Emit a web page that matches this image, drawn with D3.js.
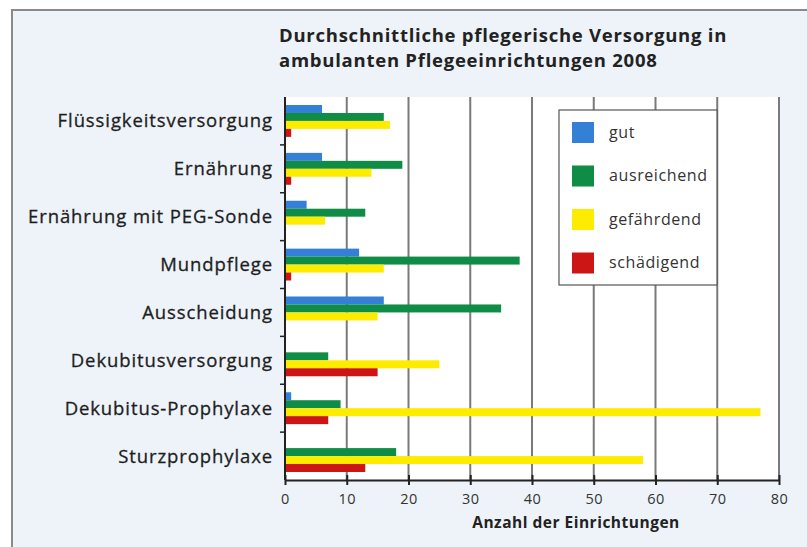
<!DOCTYPE html>
<html><head><meta charset="utf-8">
<script src="https://cdn.jsdelivr.net/npm/d3@7"></script>
<style>
body{margin:0;background:#fff;}
text{font-family:"Open Sans",sans-serif;}
</style></head>
<body>
<svg id="c" width="807" height="547"></svg>
<script>
const categories = ["Flüssigkeitsversorgung","Ernährung","Ernährung mit PEG-Sonde","Mundpflege","Ausscheidung","Dekubitusversorgung","Dekubitus-Prophylaxe","Sturzprophylaxe"];
const seriesNames = ["gut","ausreichend","gefährdend","schädigend"];
const gut = [6,6,3.5,12,16,0,1,0];
const ausreichend = [16,19,13,38,35,7,9,18];
const gefaehrdend = [17,14,6.5,16,15,25,77,58];
const schaedigend = [1,1,0,1,0,15,7,13];
const xTicks = [0,10,20,30,40,50,60,70,80];
const colors = ["#3380d6","#0f8c45","#fdec00","#cc1515"];
const title = ["Durchschnittliche pflegerische Versorgung in","ambulanten Pflegeeinrichtungen 2008"];
const xTitle = "Anzahl der Einrichtungen";

const values = [gut, ausreichend, gefaehrdend, schaedigend];
const svg = d3.select("#c");
// frame
svg.append("rect").attr("x",12).attr("y",10).attr("width",800).attr("height",545)
  .attr("fill","#edf3f9").attr("stroke","#8a8a8a").attr("stroke-width",2);

const L=285, R=779, T=97, B=480;
const x = d3.scaleLinear().domain([0,80]).range([L,R]);
const y = d3.scaleBand().domain(categories).range([T,B]);
const yi = d3.scaleBand().domain(seriesNames).range([8, y.bandwidth()-8]);

svg.append("rect").attr("x",L).attr("y",T).attr("width",R-L).attr("height",B-T).attr("fill","#fff");
// grid
svg.append("g").selectAll("line").data(xTicks.slice(1)).join("line")
  .attr("x1",d=>x(d)).attr("x2",d=>x(d)).attr("y1",T).attr("y2",B)
  .attr("stroke","#7a7a7a").attr("stroke-width",2);

// bars
const g = svg.append("g");
categories.forEach((c,ci)=>{
  seriesNames.forEach((s,si)=>{
    const v = values[si][ci];
    if(v<=0) return;
    g.append("rect").attr("x",x(0)).attr("y",y(c)+yi(s))
      .attr("width",x(v)-x(0)).attr("height",yi.bandwidth())
      .attr("fill",colors[si]);
  });
});

// x axis
const xa = svg.append("g").attr("transform",`translate(0,${B})`)
  .call(d3.axisBottom(x).tickValues(xTicks).tickSize(5).tickSizeOuter(0));
xa.select(".domain").attr("stroke","#222").attr("stroke-width",2);
xa.selectAll(".tick line").attr("y1",-5).attr("y2",5).attr("stroke","#222").attr("stroke-width",2);
xa.selectAll(".tick text").attr("y",14).attr("font-size",14.5).attr("fill","#333")
  .attr("font-family","Open Sans, sans-serif").attr("letter-spacing",0.5);

// y axis
svg.append("line").attr("x1",L).attr("x2",L).attr("y1",T).attr("y2",B).attr("stroke","#222").attr("stroke-width",2);
svg.append("g").selectAll("line").data(categories.slice(1)).join("line")
  .attr("x1",L-5).attr("x2",L).attr("y1",d=>y(d)).attr("y2",d=>y(d)).attr("stroke","#222").attr("stroke-width",1.5);
svg.append("g").selectAll("text").data(categories).join("text")
  .attr("x",273).attr("y",d=>y(d)+y.bandwidth()/2).attr("dy","0.35em")
  .attr("text-anchor","end").attr("font-size",18.5)
  .attr("letter-spacing",0.9).attr("fill","#1e1e1e").attr("stroke","#1e1e1e").attr("stroke-width",0.3).text(d=>d);

// titles
svg.append("g").selectAll("text").data(title).join("text")
  .attr("x",279).attr("y",(d,i)=>42+i*25).attr("font-size",18.5).attr("font-weight","bold")
  .attr("letter-spacing",0.75).attr("fill","#222").text(d=>d);
svg.append("text").attr("x",576).attr("y",528).attr("text-anchor","middle")
  .attr("font-size",15.5).attr("font-weight","bold").attr("letter-spacing",0.5).attr("fill","#222").text(xTitle);

// legend
const lg = svg.append("g");
lg.append("rect").attr("x",559).attr("y",110).attr("width",158).attr("height",175)
  .attr("fill","#fff").attr("stroke","#555").attr("stroke-width",1.2);
seriesNames.forEach((s,i)=>{
  const yy = 122 + i*43.5;
  lg.append("rect").attr("x",572).attr("y",yy).attr("width",22).attr("height",21).attr("fill",colors[i]);
  lg.append("text").attr("x",609).attr("y",yy+10).attr("dy","0.35em").attr("font-size",16)
    .attr("letter-spacing",0.6).attr("fill","#333").text(s);
});
</script>
</body></html>
